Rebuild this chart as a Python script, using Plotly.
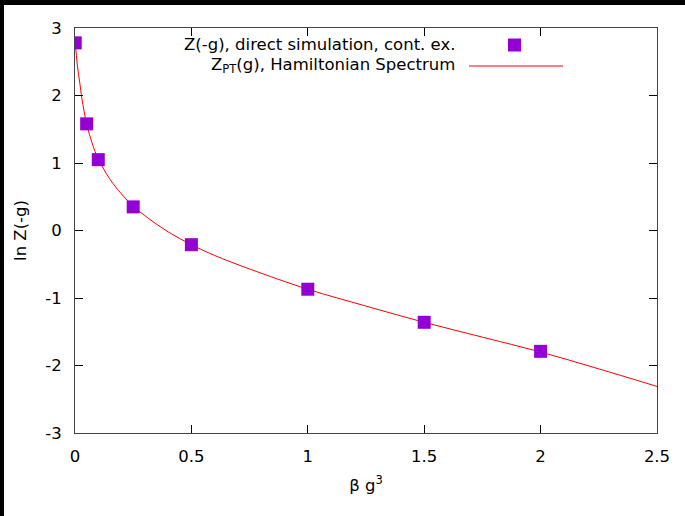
import plotly.graph_objects as go

# Simulation data points
sim_x = [0.001, 0.05, 0.1, 0.25, 0.5, 1.0, 1.5, 2.0]
sim_y = [2.78, 1.58, 1.05, 0.35, -0.21, -0.87, -1.36, -1.79]

# Hamiltonian spectrum curve
ham_x = [0.001, 0.01, 0.02, 0.03, 0.05, 0.075, 0.1, 0.15, 0.2, 0.25, 0.3, 0.4, 0.5,
         0.6, 0.75, 1.0, 1.25, 1.5, 1.75, 2.0, 2.25, 2.5]
ham_y = [2.80, 2.45, 2.20, 1.95, 1.58, 1.28, 1.06, 0.76, 0.54, 0.36, 0.22, -0.02, -0.21,
         -0.37, -0.57, -0.87, -1.12, -1.36, -1.58, -1.80, -2.05, -2.31]

x_ticks = [0, 0.5, 1, 1.5, 2, 2.5]
x_tick_labels = ["0", "0.5", "1", "1.5", "2", "2.5"]
y_ticks = [-3, -2, -1, 0, 1, 2, 3]
y_tick_labels = ["-3", "-2", "-1", "0", "1", "2", "3"]

FONT = "DejaVu Sans"
FS = 16.5
W, H = 685, 516
L, R, T, B = 75, 28, 28, 83
PW, PH = W - L - R, H - T - B

def px(xp):
    return (xp - L) / PW

def py(yp):
    return (H - B - yp) / PH

fig = go.Figure()
fig.add_trace(go.Scatter(x=ham_x, y=ham_y, mode="lines", line=dict(color="#ff0000", width=1, shape="spline"),
                         name="Hamiltonian", showlegend=False))
fig.add_trace(go.Scatter(x=sim_x, y=sim_y, mode="markers",
                         marker=dict(symbol="square", size=13, color="#9400d3", line=dict(width=0)),
                         name="sim", showlegend=False))

axis_common = dict(showline=True, linecolor="#444", linewidth=1, mirror="allticks",
                   ticks="inside", ticklen=8, tickcolor="#000", tickwidth=1,
                   showgrid=False, zeroline=False,
                   tickfont=dict(family=FONT, size=FS, color="#000"))

fig.update_xaxes(range=[0, 2.5], tickvals=x_ticks, ticktext=x_tick_labels, ticklabelstandoff=8,
                 title=dict(text="β g<sup>3</sup>", font=dict(family=FONT, size=FS, color="#000"), standoff=14),
                 **axis_common)
fig.update_yaxes(range=[-3, 3], tickvals=y_ticks, ticktext=y_tick_labels, ticklabelstandoff=9,
                 title=dict(text="ln Z(-g)", font=dict(family=FONT, size=FS, color="#000"), standoff=14),
                 **axis_common)

shapes = [
    # black border strips
    dict(type="rect", xref="paper", yref="paper", x0=px(0), x1=px(685), y0=py(5), y1=py(0),
         fillcolor="#000", line=dict(width=0), layer="above"),
    dict(type="rect", xref="paper", yref="paper", x0=px(0), x1=px(4), y0=py(516), y1=py(0),
         fillcolor="#000", line=dict(width=0), layer="above"),
    # legend keys
    dict(type="rect", xref="paper", yref="paper", x0=px(508), x1=px(521), y0=py(51.5), y1=py(38.5),
         fillcolor="#9400d3", line=dict(width=0)),
    dict(type="line", xref="paper", yref="paper", x0=px(469), x1=px(563), y0=py(66), y1=py(66),
         line=dict(color="#ff0000", width=1)),
]

annotations = [
    dict(text="Z(-g), direct simulation, cont. ex.", xref="paper", yref="paper", x=px(457), y=py(45),
         xanchor="right", yanchor="middle", showarrow=False, font=dict(family=FONT, size=FS, color="#000")),
    dict(text="Z<sub>PT</sub>(g), Hamiltonian Spectrum", xref="paper", yref="paper", x=px(457), y=py(66),
         xanchor="right", yanchor="middle", showarrow=False, font=dict(family=FONT, size=FS, color="#000")),
]

fig.update_layout(width=W, height=H, margin=dict(l=L, r=R, t=T, b=B),
                  paper_bgcolor="#fff", plot_bgcolor="#fff",
                  shapes=shapes, annotations=annotations, showlegend=False,
                  font=dict(family=FONT, size=FS, color="#000"))

fig.write_html("out.html")
